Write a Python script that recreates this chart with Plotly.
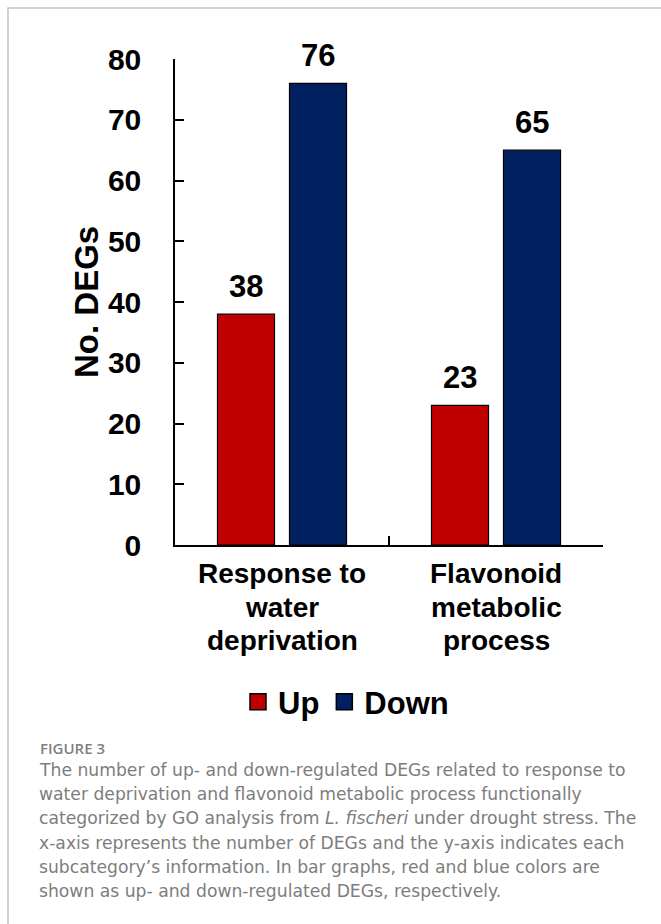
import plotly.graph_objects as go

# ---- data ----
categories = ["Response to water deprivation", "Flavonoid metabolic process"]
category_lines = [["Response to", "water", "deprivation"],
                  ["Flavonoid", "metabolic", "process"]]
up_values = [38, 23]
down_values = [76, 65]
series_names = ["Up", "Down"]
series_colors = ["#C00000", "#002060"]
y_ticks = [0, 10, 20, 30, 40, 50, 60, 70, 80]

caption_title = "FIGURE 3"
caption_lines = [
    "The number of up- and down-regulated DEGs related to response to",
    "water deprivation and flavonoid metabolic process functionally",
    "categorized by GO analysis from <i>L. fischeri</i> under drought stress. The",
    "x-axis represents the number of DEGs and the y-axis indicates each",
    "subcategory\u2019s information. In bar graphs, red and blue colors are",
    "shown as up- and down-regulated DEGs, respectively.",
]

# ---- page geometry (pixels) ----
W, H = 661, 924
x_left, x_right = 175, 603
y_top, y_bottom = 59, 545
BARGAP = 0.327
BARGROUPGAP = 0.208

def py(px):
    """pixel row (from top) -> paper y"""
    return 1 - px / H

FONT = "Liberation Sans, Arial, sans-serif"
CAP_FONT = "DejaVu Sans, sans-serif"

fig = go.Figure()
for name, vals, col in zip(series_names, [up_values, down_values], series_colors):
    fig.add_trace(go.Bar(
        x=categories, y=vals, name=name, showlegend=False,
        marker=dict(color=col, line=dict(color="#000000", width=1.2)),
    ))
    # legend swatch
    fig.add_trace(go.Scatter(
        x=[None], y=[None], mode="markers", name=name,
        marker=dict(symbol="square", size=16, color=col,
                    line=dict(color="#000000", width=1.5)),
    ))

annotations = []

# value labels above bars
cat_px = (x_right - x_left) / len(categories)
slot_px = cat_px * (1 - BARGAP) / len(series_names)
for si, vals in enumerate([up_values, down_values]):
    offset = (si - (len(series_names) - 1) / 2) * slot_px
    for c, v in zip(categories, vals):
        annotations.append(dict(
            x=c, y=v, xref="x", yref="y", text=str(v), showarrow=False,
            xshift=offset, yshift=28, yanchor="middle",
            font=dict(family=FONT, size=31, color="#000000", weight="bold"),
        ))

# category labels under the axis
line_rows = [573, 607, 640]
for c, lines in zip(categories, category_lines):
    for row, txt in zip(line_rows, lines):
        annotations.append(dict(
            x=c, y=py(row), xref="x", yref="paper", text=txt, showarrow=False,
            yanchor="middle",
            font=dict(family=FONT, size=28, color="#000000", weight="bold"),
        ))

# y-axis title
annotations.append(dict(
    x=86 / W, y=py((y_top + y_bottom) / 2), xref="paper", yref="paper",
    text="No. DEGs", textangle=-90, showarrow=False,
    xanchor="center", yanchor="middle",
    font=dict(family=FONT, size=33, color="#000000", weight="bold"),
))

# caption
annotations.append(dict(
    x=38 / W, y=py(748), xref="paper", yref="paper", text=caption_title,
    showarrow=False, xanchor="left", yanchor="middle",
    font=dict(family="Open Sans, sans-serif", size=15, color="#7f7f7f", weight=600),
))
for i, txt in enumerate(caption_lines):
    annotations.append(dict(
        x=37 / W, y=py(770 + i * 24.2), xref="paper", yref="paper", text=txt,
        showarrow=False, xanchor="left", yanchor="middle",
        font=dict(family=CAP_FONT, size=17.2, color="#7d7d7d"),
    ))

# thin frame around the figure panel
shapes = [dict(
    type="path", xref="paper", yref="paper",
    path=f"M {8/W} 0 L {8/W} {py(8)} L 1 {py(8)}",
    line=dict(color="#c4c4c4", width=1.5),
)]

fig.update_layout(
    width=W, height=H,
    margin=dict(l=0, r=0, t=0, b=0, pad=0, autoexpand=False),
    paper_bgcolor="#ffffff", plot_bgcolor="#ffffff",
    barmode="group", bargap=BARGAP, bargroupgap=BARGROUPGAP,
    showlegend=True,
    legend=dict(
        orientation="h", x=346 / W, y=py(702), xanchor="center", yanchor="middle",
        font=dict(family=FONT, size=31, color="#000000", weight="bold"),
        itemclick=False, itemdoubleclick=False, traceorder="normal",
    ),
    xaxis=dict(
        type="category", domain=[x_left / W, x_right / W], range=[-0.5, 1.5],
        showline=True, linecolor="#000000", linewidth=1.5,
        ticks="inside", tickson="boundaries", ticklen=9, tickwidth=1.5,
        tickcolor="#000000", showticklabels=False, showgrid=False, zeroline=False,
        automargin=False,
    ),
    yaxis=dict(
        domain=[py(y_bottom), py(y_top)], range=[0, 80],
        tickvals=y_ticks, ticktext=[str(t) for t in y_ticks],
        showline=True, linecolor="#000000", linewidth=1.5,
        ticks="inside", ticklen=9, tickwidth=1.5, tickcolor="#000000",
        ticklabelstandoff=26,
        tickfont=dict(family=FONT, size=30, color="#000000", weight="bold"),
        showgrid=False, zeroline=False, automargin=False,
    ),
    annotations=annotations,
    shapes=shapes,
)

fig.write_html("out.html")
